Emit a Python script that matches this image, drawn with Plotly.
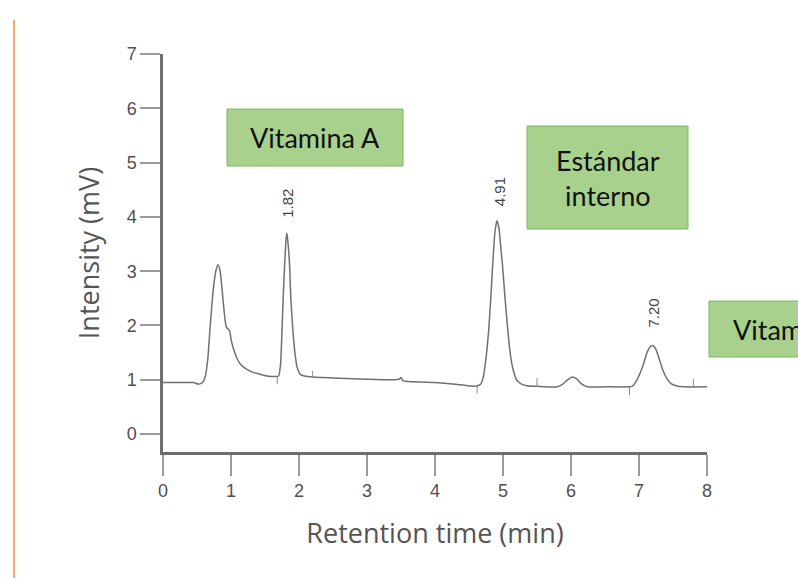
import plotly.graph_objects as go

# ---- data ----
time_min = [0.00, 0.30, 0.45, 0.52, 0.58, 0.62, 0.66, 0.69, 0.72, 0.75, 0.78, 0.81, 0.84, 0.87,
            0.90, 0.93, 0.96, 0.98, 1.00, 1.03, 1.08, 1.13, 1.20, 1.28, 1.40, 1.53, 1.65, 1.70,
            1.73, 1.75, 1.77, 1.79, 1.81, 1.82, 1.83, 1.86, 1.88, 1.91, 1.94, 1.97, 2.02, 2.08,
            2.20, 2.60, 3.00, 3.40, 3.47, 3.50, 3.53, 3.60, 4.00, 4.30, 4.60, 4.67, 4.71, 4.75,
            4.79, 4.82, 4.85, 4.88, 4.91, 4.94, 4.97, 4.99, 5.03, 5.07, 5.11, 5.15, 5.20, 5.26,
            5.35, 5.50, 5.80, 5.88, 5.95, 6.02, 6.08, 6.15, 6.24, 6.50, 6.85, 6.90, 6.97, 7.05,
            7.12, 7.16, 7.20, 7.24, 7.27, 7.35, 7.41, 7.47, 7.55, 7.66, 8.00]
intensity_mv = [0.95, 0.95, 0.95, 0.92, 0.95, 1.05, 1.40, 1.92, 2.40, 2.78, 3.02, 3.12, 3.00, 2.65,
                2.25, 1.97, 1.93, 1.90, 1.75, 1.60, 1.42, 1.30, 1.22, 1.16, 1.11, 1.07, 1.06, 1.07,
                1.30, 1.91, 2.60, 3.15, 3.60, 3.70, 3.62, 3.15, 2.50, 1.91, 1.50, 1.24, 1.10, 1.07,
                1.05, 1.03, 1.01, 1.00, 1.01, 1.04, 0.98, 0.97, 0.95, 0.92, 0.88, 0.92, 1.05, 1.40,
                1.92, 2.50, 3.15, 3.70, 3.93, 3.80, 3.40, 3.15, 2.50, 1.92, 1.45, 1.18, 1.00, 0.93,
                0.89, 0.88, 0.87, 0.92, 1.00, 1.05, 1.02, 0.93, 0.87, 0.87, 0.87, 0.88, 1.00, 1.23,
                1.51, 1.60, 1.63, 1.58, 1.49, 1.18, 1.02, 0.93, 0.89, 0.87, 0.87]

# integration markers (peak start / end ticks)
mark_t = [1.68, 2.20, 4.62, 5.50, 6.86, 7.80]
mark_lo = [0.92, 1.05, 0.75, 0.87, 0.72, 0.87]
mark_hi = [1.07, 1.16, 0.88, 1.03, 0.87, 1.01]

# labelled peaks
peak_t = [1.82, 4.91, 7.20]
peak_label = ["1.82", "4.91", "7.20"]
peak_label_x = [1.83, 4.96, 7.20]
peak_label_y = [4.25, 4.46, 2.23]

x_ticks = [0, 1, 2, 3, 4, 5, 6, 7, 8]
y_ticks = [0, 1, 2, 3, 4, 5, 6, 7]

box_texts = ["Vitamina A", "Estándar<br>interno", "Vitamina E"]

# ---- layout geometry (pixels) ----
W, H = 798, 578
L, R, T, B = 163, 707, 54, 452


def pxx(x):
    return (x - L) / (R - L)


def pxy(y):
    return (B - y) / (B - T)


fig = go.Figure()
fig.add_trace(go.Scatter(x=time_min, y=intensity_mv, mode="lines",
                         line=dict(color="#707070", width=1.5, shape="spline", smoothing=0.5),
                         hoverinfo="x+y", showlegend=False))

mx, my = [], []
for t, lo, hi in zip(mark_t, mark_lo, mark_hi):
    mx += [t, t, None]
    my += [lo, hi, None]
fig.add_trace(go.Scatter(x=mx, y=my, mode="lines", line=dict(color="#8a8a8a", width=1),
                         hoverinfo="skip", showlegend=False))

for lx, ly, txt in zip(peak_label_x, peak_label_y, peak_label):
    fig.add_annotation(x=lx, y=ly, xref="x", yref="y", text=txt, showarrow=False,
                       textangle=-90, font=dict(family="Liberation Sans", size=15, color="#444"))

# green labelled boxes (pixel rectangles)
boxes = [(227, 403, 109, 166), (527, 688, 126, 229), (709, 885, 301, 357)]
for (x0, x1, y0, y1), txt in zip(boxes, box_texts):
    fig.add_shape(type="rect", xref="paper", yref="paper",
                  x0=pxx(x0), x1=pxx(x1), y0=pxy(y1), y1=pxy(y0),
                  fillcolor="#a9d18e", line=dict(color="#7cb95f", width=1))
    fig.add_annotation(xref="paper", yref="paper", x=pxx((x0 + x1) / 2), y=pxy((y0 + y1) / 2),
                       xanchor="center", yanchor="middle", text=txt, showarrow=False,
                       font=dict(family="Lato", size=27, color="#111"))

# orange vertical rule at the left edge
fig.add_shape(type="line", xref="paper", yref="paper", x0=pxx(14), x1=pxx(14),
              y0=pxy(20), y1=pxy(578), line=dict(color="#f5a96e", width=2))

axis_common = dict(showline=True, linecolor="#6e6e6e", linewidth=2.5, ticks="outside",
                   tickcolor="#9a9a9a", tickwidth=1.5, showgrid=False, zeroline=False,
                   tickfont=dict(family="Liberation Sans", size=18, color="#505050"))

fig.update_xaxes(range=[0, 8], tickvals=x_ticks, ticklen=21, automargin=False,
                 title=dict(text="Retention time (min)", standoff=24,
                            font=dict(family="Open Sans", size=27, color="#555")),
                 **axis_common)
fig.update_yaxes(range=[-0.33, 7], tickvals=y_ticks, ticklen=20, automargin=False,
                 title=dict(text="Intensity (mV)", standoff=20,
                            font=dict(family="Open Sans", size=27, color="#555")),
                 **axis_common)

fig.update_layout(width=W, height=H, margin=dict(l=L, r=W - R, t=T, b=H - B),
                  paper_bgcolor="white", plot_bgcolor="white", showlegend=False)

fig.write_html("out.html")
